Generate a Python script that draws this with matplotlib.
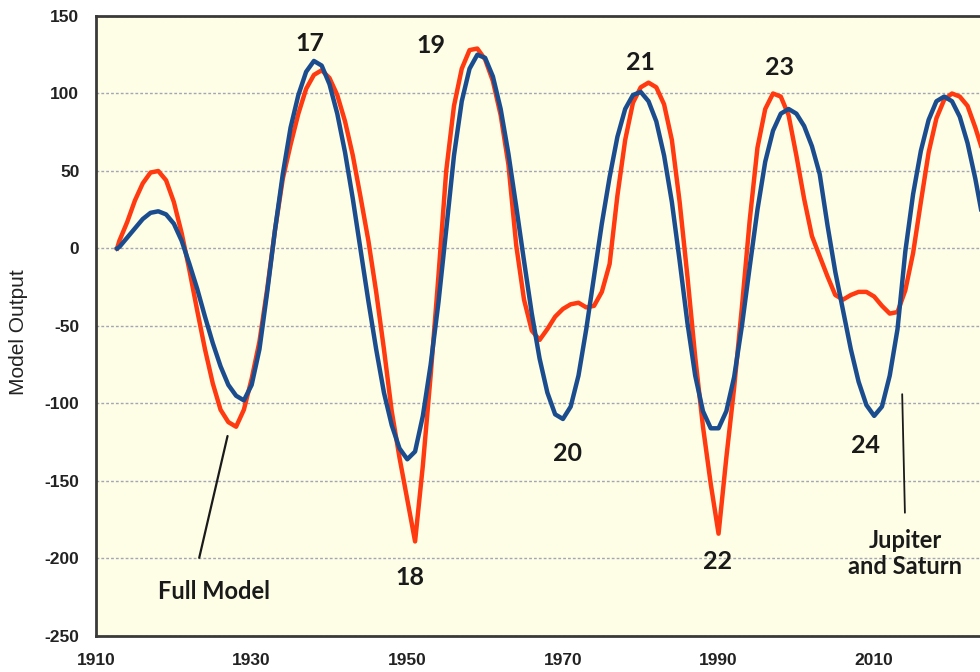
import matplotlib
matplotlib.use("Agg")
import matplotlib.pyplot as plt

plt.rcParams["axes.unicode_minus"] = False

# --- values ---
years = [1912.7] + list(range(1913, 2025))

full_model = [
    0, 5, 17, 31, 42, 49, 50, 44, 30, 10, -14,            # 1912.7-1922
    -40, -65, -87, -104, -112, -115, -104, -84, -60, -26,  # 1923-1932
    12, 45, 67, 87, 103, 112, 115, 110, 99, 82,            # 1933-1942
    60, 33, 5, -28, -65, -105, -135, -162, -189, -140,     # 1943-1952
    -82, -18, 50, 92, 116, 128, 129, 122, 108, 86,         # 1953-1962
    54, 2, -33, -53, -59, -52, -44, -39, -36, -35,         # 1963-1972
    -38, -37, -28, -10, 34, 70, 94, 104, 107, 104,         # 1973-1982
    93, 70, 30, -18, -70, -115, -152, -184, -135, -90,     # 1983-1992
    -38, 18, 65, 90, 100, 98, 86, 60, 32, 8,               # 1993-2002
    -5, -18, -30, -33, -30, -28, -28, -31, -37, -42,       # 2003-2012
    -41, -27, -3, 30, 62, 84, 96, 100, 98, 92,             # 2013-2022
    78, 62,                                                # 2023-2024
]

jupiter_saturn = [
    0, 1, 7, 13, 19, 23, 24, 22, 16, 5, -10,               # 1912.7-1922
    -26, -44, -61, -76, -88, -95, -98, -88, -65, -28,      # 1923-1932
    12, 48, 78, 99, 114, 121, 118, 106, 87, 62,            # 1933-1942
    32, -1, -34, -65, -93, -114, -129, -136, -131, -108,   # 1943-1952
    -75, -35, 12, 60, 95, 116, 125, 123, 111, 90,          # 1953-1962
    61, 27, -8, -42, -71, -93, -107, -110, -102, -82,      # 1963-1972
    -52, -18, 16, 46, 72, 90, 99, 101, 95, 82,             # 1973-1982
    60, 30, -8, -48, -82, -105, -116, -116, -105, -83,     # 1983-1992
    -50, -12, 25, 56, 76, 87, 90, 87, 79, 66,              # 1993-2002
    48, 15, -15, -40, -65, -86, -101, -108, -102, -82,     # 2003-2012
    -52, -2, 35, 63, 83, 95, 98, 95, 85, 68,               # 2013-2022
    45, 18,                                                # 2023-2024
]

cycle_labels = ["17", "18", "19", "20", "21", "22", "23", "24"]
cycle_x = [1937.5, 1950.3, 1953.1, 1970.6, 1980.0, 1989.9, 1997.8, 2008.9]
cycle_y = [132, -212, 131, -132, 120, -202, 117, -127]

x_ticks = [1910, 1930, 1950, 1970, 1990, 2010]
y_ticks = [-250, -200, -150, -100, -50, 0, 50, 100, 150]

# --- figure ---
fig = plt.figure(figsize=(9.8, 6.72), dpi=100)
ax = fig.add_axes([0.098, 0.0536, 0.902, 0.9226])
ax.set_facecolor("#FEFEE6")

ax.plot(years, full_model, color="#FF3A10", lw=3.2, zorder=3)
ax.plot(years, jupiter_saturn, color="#1B4D8E", lw=3.2, zorder=4)

ax.set_xlim(1910, 2023.6)
ax.set_ylim(-250, 150)
ax.set_xticks(x_ticks)
ax.set_yticks(y_ticks)
ax.yaxis.grid(True, color="#a4a4b4", linestyle=(0, (2, 1.5)), lw=1.0, zorder=1)

for side in ["top", "left", "bottom"]:
    ax.spines[side].set_color("#3a3a3a")
    ax.spines[side].set_linewidth(2)
ax.spines["right"].set_visible(False)

ax.tick_params(length=0, pad=12, labelsize=12.5, labelcolor="#222222")
for lab in ax.get_xticklabels() + ax.get_yticklabels():
    lab.set_fontweight("bold")
    lab.set_family("Liberation Sans")

ax.set_ylabel("Model Output", fontsize=15, family="Liberation Sans", color="#222222")
ax.yaxis.set_label_coords(-0.077, 0.49)

# cycle numbers
for lab, x, y in zip(cycle_labels, cycle_x, cycle_y):
    ax.text(x, y, lab, ha="center", va="center", fontsize=18, fontweight="bold",
            family="Lato", color="#1a1a1a", zorder=5)

# series labels with pointer lines
ax.annotate("Full Model", xy=(1926.9, -121), xytext=(1925.2, -221),
            ha="center", va="center", fontsize=17, fontweight="bold", family="Lato",
            color="#1a1a1a",
            arrowprops=dict(arrowstyle="-", color="#1a1a1a", lw=1.6,
                            shrinkA=14, shrinkB=0, relpos=(0.32, 1.0)))
ax.annotate("Jupiter\nand Saturn", xy=(2013.6, -94), xytext=(2014.0, -197),
            ha="center", va="center", fontsize=17, fontweight="bold", family="Lato",
            color="#1a1a1a", linespacing=1.15,
            arrowprops=dict(arrowstyle="-", color="#1a1a1a", lw=1.3,
                            shrinkA=10, shrinkB=0, relpos=(0.5, 1.0)))

fig.savefig("out.png", dpi=100, facecolor="white")
